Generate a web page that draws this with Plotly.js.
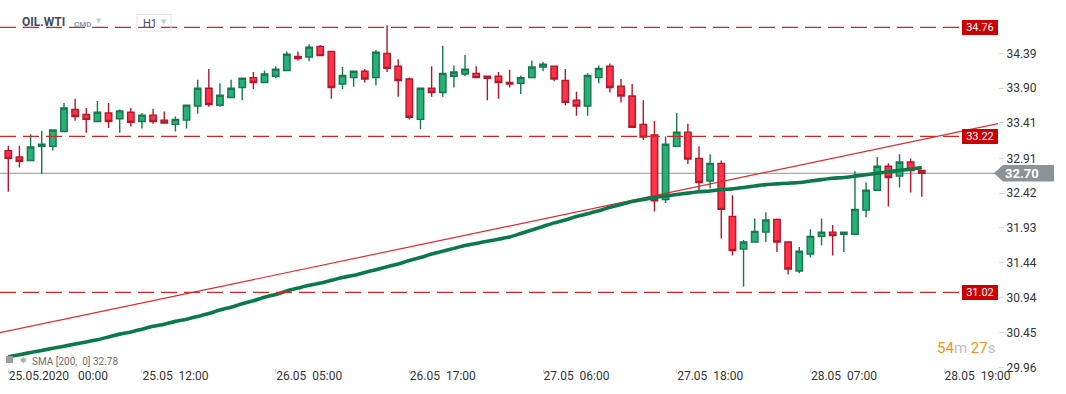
<!DOCTYPE html>
<html><head><meta charset="utf-8">
<script src="https://cdn.plot.ly/plotly-3.0.1.min.js"></script>
<style>html,body{margin:0;padding:0;background:#fff;}#chart{width:1066px;height:394px;}</style>
</head><body><div id="chart"></div>
<script>
// ---- data (OIL.WTI, H1) ----
const openP  = [33.02,32.93,32.88,33.08,33.08,33.29,33.60,33.53,33.43,33.55,33.47,33.56,33.43,33.52,33.45,33.39,33.45,33.65,33.90,33.66,
                33.77,33.91,34.05,33.98,34.07,34.15,34.35,34.34,34.49,34.42,33.96,34.05,34.14,34.05,34.39,34.21,34.03,33.46,33.90,33.84,
                34.07,34.10,34.11,34.07,34.07,33.98,33.97,34.05,34.20,34.21,34.01,33.73,33.65,34.05,34.21,33.93,33.79,33.39,33.24,32.33,
                33.08,33.28,32.91,32.59,32.84,32.09,31.63,31.73,31.87,32.05,31.73,31.32,31.56,31.81,31.87,31.84,31.84,32.18,32.46,32.80,
                32.66,32.86,32.74];
const highP  = [33.09,33.09,33.25,33.30,33.31,33.69,33.75,33.62,33.72,33.69,33.60,33.62,33.55,33.61,33.57,33.50,33.67,34.02,34.17,33.97,
                34.02,34.04,34.13,34.15,34.21,34.42,34.42,34.52,34.51,34.42,34.20,34.14,34.17,34.44,34.79,34.31,34.05,33.91,34.21,34.50,
                34.22,34.37,34.21,34.07,34.13,34.16,34.08,34.29,34.27,34.21,34.17,33.85,34.11,34.22,34.25,34.03,33.96,33.73,33.44,33.22,
                33.55,33.40,33.08,32.97,32.88,32.39,31.76,32.06,32.15,32.06,31.74,31.66,31.91,32.06,31.97,31.87,32.73,32.57,32.93,32.84,
                32.97,32.91,32.74];
const lowP   = [32.44,32.78,32.87,32.69,33.02,33.29,33.44,33.27,33.43,33.34,33.27,33.36,33.33,33.40,33.40,33.29,33.33,33.54,33.64,33.64,
                33.77,33.73,33.89,33.98,34.04,34.15,34.29,34.28,34.36,33.75,33.89,33.92,33.98,33.94,34.13,33.78,33.46,33.32,33.78,33.78,
                33.91,34.07,34.04,33.73,33.75,33.91,33.82,34.04,34.14,34.00,33.66,33.51,33.51,33.97,33.84,33.70,33.35,33.17,32.16,32.28,
                33.07,32.83,32.42,32.49,31.78,31.54,31.10,31.73,31.73,31.59,31.27,31.29,31.51,31.68,31.54,31.59,31.84,32.08,32.45,32.23,
                32.50,32.43,32.37];
const closeP = [32.91,32.87,33.07,33.11,33.31,33.62,33.50,33.46,33.56,33.43,33.58,33.42,33.52,33.43,33.41,33.46,33.66,33.90,33.67,33.80,
                33.90,34.04,33.98,34.10,34.17,34.38,34.32,34.48,34.36,33.91,34.08,34.14,34.03,34.41,34.18,34.01,33.49,33.90,33.84,34.11,
                34.13,34.17,34.05,34.04,33.98,33.96,34.05,34.20,34.24,34.03,33.70,33.65,34.08,34.18,33.91,33.79,33.35,33.21,32.31,33.11,
                33.28,32.90,32.57,32.84,32.19,31.61,31.73,31.88,32.04,31.73,31.35,31.60,31.81,31.87,31.82,31.87,32.19,32.46,32.80,32.64,
                32.86,32.74,32.70];
const sma200 = [30.11,30.14,30.17,30.20,30.23,30.26,30.29,30.32,30.35,30.39,30.43,30.46,30.50,30.54,30.57,30.61,30.64,30.68,30.72,30.77,
                30.81,30.86,30.90,30.95,30.99,31.04,31.08,31.12,31.15,31.19,31.23,31.26,31.30,31.34,31.38,31.42,31.47,31.51,31.56,31.60,
                31.64,31.68,31.71,31.74,31.77,31.80,31.85,31.90,31.95,32.00,32.04,32.09,32.13,32.17,32.22,32.26,32.30,32.33,32.36,32.38,
                32.40,32.42,32.44,32.45,32.47,32.48,32.50,32.52,32.54,32.55,32.56,32.57,32.59,32.61,32.63,32.64,32.66,32.68,32.70,32.72,
                32.74,32.76,32.78];
const levels = [34.76, 33.22, 31.02];
const lastPrice = 32.70;
const trendIdx = [-0.75, 88.85];
const trendVal = [30.45, 33.40];
const xTickIdx  = [0, 12, 24, 36, 48, 60, 72, 84];
const xTickText = ['25.05.2020\u00a0\u00a0 00:00','25.05\u00a0 12:00','26.05\u00a0 05:00','26.05\u00a0 17:00',
                   '27.05\u00a0 06:00','27.05\u00a0 18:00','28.05\u00a0 07:00','28.05\u00a0 19:00'];
const yTickVals = [34.39, 33.90, 33.41, 32.91, 32.42, 31.93, 31.44, 30.94, 30.45, 29.96];

// ---- layout helpers (pixel -> paper) ----
const W = 1066, H = 394, ML = 0, MR = 68, MT = 0, MB = 26;
const PW = W - ML - MR, PH = H - MT - MB;
const px = v => (v - ML) / PW;
const py = v => (PH - (v - MT)) / PH;

const idx = openP.map((_, i) => i);

const traces = [
  {
    type: 'candlestick', x: idx, open: openP, high: highP, low: lowP, close: closeP,
    increasing: {line: {color: '#16784c', width: 1.4}, fillcolor: '#27b078'},
    decreasing: {line: {color: '#b3182c', width: 1.4}, fillcolor: '#ff3348'},
    whiskerwidth: 0, hoverinfo: 'skip', showlegend: false
  },
  {
    type: 'scatter', mode: 'lines', x: trendIdx, y: trendVal,
    line: {color: '#e02a2a', width: 1.2}, hoverinfo: 'skip', showlegend: false
  },
  {
    type: 'scatter', mode: 'lines', x: idx, y: sma200,
    line: {color: '#0b7a4b', width: 3.6, shape: 'spline', smoothing: 0.6}, hoverinfo: 'skip', showlegend: false
  }
];

const shapes = [];
// current price line
shapes.push({type: 'line', xref: 'paper', yref: 'y', x0: 0, x1: px(995), y0: lastPrice, y1: lastPrice,
             line: {color: '#8d9498', width: 1}, layer: 'below'});
levels.forEach(v => shapes.push({type: 'line', xref: 'paper', yref: 'y', x0: 0, x1: 1, y0: v, y1: v,
             line: {color: '#d42424', width: 1.3, dash: '16px,7px'}, layer: 'above'}));
// price tag arrow
const hh = 8.3 * (35.145 - 29.952) / PH;
shapes.push({type: 'path', xref: 'paper', yref: 'y',
  path: `M ${px(994)},${lastPrice} L ${px(1003)},${lastPrice + hh} L ${px(1054)},${lastPrice + hh} L ${px(1054)},${lastPrice - hh} L ${px(1003)},${lastPrice - hh} Z`,
  fillcolor: '#8b9398', line: {width: 0}});
// H1 box
shapes.push({type: 'rect', xref: 'paper', yref: 'paper', x0: px(137), x1: px(171), y0: py(31), y1: py(14.5),
  line: {color: '#e0e3e7', width: 1}, fillcolor: 'rgba(255,255,255,0)'});
// SMA legend icon
shapes.push({type: 'rect', xref: 'paper', yref: 'paper', x0: px(6), x1: px(13), y0: py(363), y1: py(356),
  line: {width: 0}, fillcolor: '#9c9c9c'});

const annotations = [];
levels.forEach(v => annotations.push({xref: 'paper', yref: 'y', x: 1, y: v, xanchor: 'right', yanchor: 'middle',
  text: v.toFixed(2), showarrow: false, bgcolor: '#cc0000', borderpad: 1, borderwidth: 0, width: 34, height: 13,
  font: {family: 'Roboto', size: 11, color: '#ffffff'}}));
annotations.push({xref: 'paper', yref: 'y', x: px(1021.5), y: lastPrice, xanchor: 'center', yanchor: 'middle',
  text: '<b>' + lastPrice.toFixed(2) + '</b>', showarrow: false, font: {family: 'Roboto', size: 13, color: '#ffffff'}});
// header
annotations.push({xref: 'paper', yref: 'paper', x: px(20), y: py(22.5), xanchor: 'left', yanchor: 'middle',
  text: '<b>OIL.WTI</b>', showarrow: false, font: {family: 'Roboto', size: 12, color: '#3f4b5b'}});
annotations.push({xref: 'paper', yref: 'paper', x: px(71.5), y: py(24.5), xanchor: 'left', yanchor: 'middle',
  text: '<b>CMD</b>', showarrow: false, font: {family: 'Roboto', size: 8, color: '#8d9cb0'}});
annotations.push({xref: 'paper', yref: 'paper', x: px(98.5), y: py(21), xanchor: 'center', yanchor: 'middle',
  text: '\u25BC', showarrow: false, font: {family: 'DejaVu Sans', size: 7, color: '#c6cbd1'}});
annotations.push({xref: 'paper', yref: 'paper', x: px(141), y: py(23), xanchor: 'left', yanchor: 'middle',
  text: 'H1', showarrow: false, font: {family: 'Roboto', size: 11, color: '#3f4b5b'}});
annotations.push({xref: 'paper', yref: 'paper', x: px(163.7), y: py(22), xanchor: 'center', yanchor: 'middle',
  text: '\u25BC', showarrow: false, font: {family: 'DejaVu Sans', size: 7, color: '#c6cbd1'}});
// SMA legend
annotations.push({xref: 'paper', yref: 'paper', x: px(23), y: py(360), xanchor: 'center', yanchor: 'middle',
  text: '\u2731', showarrow: false, font: {family: 'DejaVu Sans', size: 8, color: '#aaaaaa'}});
annotations.push({xref: 'paper', yref: 'paper', x: px(30), y: py(361), xanchor: 'left', yanchor: 'middle',
  text: 'SMA [200,\u00a0 0] ' + sma200[sma200.length - 1].toFixed(2), showarrow: false,
  font: {family: 'Roboto', size: 10, color: '#6b6b6b'}});
// countdown
annotations.push({xref: 'paper', yref: 'paper', x: px(997), y: py(348), xanchor: 'right', yanchor: 'middle',
  text: '<span style="color:#f7941d">54</span><span style="color:#bdbdbd">m</span> <span style="color:#f7941d">27</span><span style="color:#bdbdbd">s</span>',
  showarrow: false, font: {family: 'Roboto', size: 15, color: '#f7941d'}});

const layout = {
  width: W, height: H,
  margin: {l: ML, r: MR, t: MT, b: MB, autoexpand: false},
  paper_bgcolor: '#ffffff', plot_bgcolor: '#ffffff',
  font: {family: 'Roboto', size: 12, color: '#333333'},
  showlegend: false,
  boxgap: 0.42, boxgroupgap: 0,
  xaxis: {
    type: 'linear', range: [-0.745, 88.84], rangeslider: {visible: false},
    tickmode: 'array', tickvals: xTickIdx, ticktext: xTickText,
    ticks: 'outside', ticklen: 4, tickcolor: '#d4d4d4', tickwidth: 1,
    ticklabelposition: 'outside right', ticklabelstandoff: -3,
    showgrid: false, zeroline: false, showline: false, automargin: false,
    tickfont: {family: 'Roboto', size: 12, color: '#333333'}
  },
  yaxis: {
    side: 'right', range: [29.952, 35.145],
    tickmode: 'array', tickvals: yTickVals, ticktext: yTickVals.map(v => v.toFixed(2)),
    ticks: 'outside', ticklen: 5, tickcolor: '#d8d8d8', tickwidth: 1,
    showgrid: false, zeroline: false, showline: false, automargin: false,
    tickfont: {family: 'Roboto', size: 12, color: '#333333'}
  },
  shapes: shapes,
  annotations: annotations
};

Plotly.newPlot('chart', traces, layout, {displayModeBar: false, staticPlot: true});
</script>
</body></html>
